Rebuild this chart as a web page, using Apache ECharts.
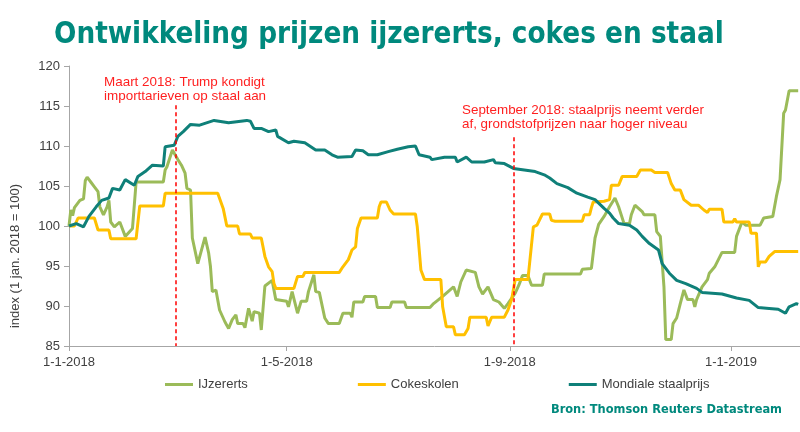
<!DOCTYPE html>
<html><head><meta charset="utf-8">
<script src="https://cdn.jsdelivr.net/npm/echarts@6/dist/echarts.min.js"></script>
<style>html,body{margin:0;padding:0;background:#fff}#c{width:800px;height:432px}</style>
</head><body><div id="c"></div>
<script>
// x values: days since 1 Jan 2018
const tickDays = [0, 120, 243, 365];
const tickLabels = ['1-1-2018', '1-5-2018', '1-9-2018', '1-1-2019'];
const eventDays = [59, 245];
const eventTops = [115.1, 111.1];

const ironDays = [0,1,2,3,6,8,9,10,12,14,16,17,19,21,22,23,25,28,29,31,32,35,37,52,53,54,57,58,60,62,64,65,67,68,71,72,75,77,78,79,81,83,86,88,90,92,93,96,97,99,101,102,105,106,108,112,114,120,121,123,126,128,131,132,135,136,138,141,143,149,151,155,156,157,162,163,169,170,177,178,185,186,199,201,206,212,214,216,219,224,226,228,231,234,237,240,242,246,248,250,253,255,261,262,282,283,288,290,292,295,298,301,303,306,309,310,312,314,316,317,323,324,326,328,329,332,333,335,337,339,341,344,345,346,349,352,353,356,360,367,368,371,373,381,383,388,390,392,394,395,397,402];
const ironVals = [100,102,101.3,102.3,103.2,103.4,105.7,106.1,105.5,104.9,104.3,102.4,101.4,102.4,103.2,100.5,99.9,100.5,99.9,98.7,98.7,99.7,105.5,105.5,107,107.4,109.5,109.3,108.3,107.6,106.6,104.7,104.5,98.5,95.3,95.3,98.6,96.6,94.9,91.8,92,89.5,88,87.2,88.3,88.9,87.8,87.8,87.3,89.7,88.1,89.3,89.1,87.0,92.5,93.2,90.8,90.6,89.9,91.8,89.1,90.6,90.6,91.8,93.9,91.8,91.7,88.5,87.8,87.8,89.1,89.1,88.6,90.5,90.5,91.2,91.2,89.8,89.8,90.5,90.5,89.8,89.8,90.3,91.2,92.4,91.2,93.0,94.5,94.2,92.4,91.5,92.4,90.8,90.5,89.7,90.3,91.6,92.6,93.8,93.8,92.6,92.6,94.0,94.0,94.6,94.7,98.5,100.2,101.2,102.4,103.5,102.4,100.3,100.3,101.4,102.6,102.2,101.8,101.4,101.4,99.3,98.7,92.4,85.8,85.8,87.8,88.5,90.3,92.0,90.8,90.8,89.9,90.8,92.4,93.3,94.1,94.9,96.7,96.7,98.7,100.5,100.1,100.1,101.0,101.2,103.7,105.8,114.1,114.5,116.9,116.9];

const cokesDays = [0,3,5,14,16,22,23,37,39,52,53,82,85,87,93,94,100,101,106,108,110,112,113,114,124,126,129,130,149,151,154,156,158,159,161,170,171,172,175,177,179,191,192,194,196,205,206,208,212,213,218,220,221,230,231,233,240,242,244,246,253,256,258,261,265,266,268,283,284,287,288,289,295,298,299,303,305,313,315,321,323,330,332,334,337,339,343,347,350,352,353,360,361,366,367,368,375,376,379,380,381,384,386,389,402];
const cokesVals = [100,100,101,101,99.5,99.5,98.4,98.4,102.5,102.5,104.1,104.1,102.2,100,100,99,99,98.5,98.5,96.2,94.9,94.3,92.8,92.2,92.2,93.7,93.7,94.2,94.2,94.9,95.8,97,97.4,99.7,101,101,102.4,103,103,102,101.5,101.5,99.9,94.5,93.3,93.3,89.9,87.4,87.4,86.4,86.4,87.2,88.6,88.6,87.5,88.6,88.6,89.5,90.8,93.3,93.3,99.9,100.1,101.5,101.5,100.7,100.6,100.6,101.4,101.4,102.3,103,103.1,103.3,105.1,105.1,106.2,106.2,107,107,106.7,106.7,105.3,104.5,104.5,103.3,102.6,102.6,102,101.7,102.1,102.1,100.5,100.5,100.9,100.5,100.5,99.1,99.1,94.9,95.5,95.5,96.2,96.8,96.8];

const steelDays = [0,4,8,11,15,18,22,24,28,31,36,38,42,46,52,53,58,60,63,67,72,80,88,98,100,102,106,110,114,115,121,124,130,136,141,145,148,156,158,162,165,170,176,181,187,191,193,199,200,207,213,214,219,222,229,234,235,240,245,251,257,262,265,269,275,280,286,290,295,298,300,303,309,313,316,320,325,327,331,335,340,346,349,360,368,375,380,386,391,395,397,401,402];
const steelVals = [100,100.3,99.9,101.2,102.4,103.2,103.5,104.7,104.5,105.8,105.1,106.2,106.8,107.6,107.5,109.9,110.1,111.2,111.8,112.7,112.6,113.2,112.9,113.2,113.1,112.2,112.2,111.8,112.0,111.2,110.4,110.6,110.4,109.5,109.5,108.9,108.6,108.7,109.5,109.4,108.9,108.9,109.3,109.6,109.9,110.0,108.9,108.6,108.3,108.6,108.6,108.0,108.6,108.0,108.0,108.3,107.9,107.8,107.2,107.0,106.8,106.4,106.0,105.3,104.8,104.1,103.6,103.3,102.2,101.6,101.0,100.3,100.1,99.5,98.7,97.8,97.0,95.3,94.1,93.2,92.8,92.2,91.7,91.5,91.0,90.7,89.8,89.7,89.6,89.1,89.9,90.3,90.2];

const seriesNames = ['IJzererts', 'Cokeskolen', 'Mondiale staalprijs'];
const seriesColors = ['#9bbb59', '#ffc000', '#0f8079'];

const pairs = (xs, ys) => xs.map((d, i) => [d, ys[i]]);
const FONT = '"Liberation Sans", Arial, sans-serif';
const TITLEFONT = '"Liberation Sans Narrow", "DejaVu Sans Condensed", Lato, sans-serif';
const labelColor = '#404040';

const chart = echarts.init(document.getElementById('c'), null, {renderer: 'canvas'});
chart.setOption({
  animation: false,
  backgroundColor: '#fff',
  grid: {left: 69, right: 0, top: 66, bottom: 86, containLabel: false},
  xAxis: {
    type: 'value', min: 0, max: 403,
    splitLine: {show: false},
    axisLine: {lineStyle: {color: '#a6a6a6', width: 1}},
    axisTick: {show: true, length: 5, lineStyle: {color: '#a6a6a6'}, customValues: tickDays},
    axisLabel: {customValues: tickDays, color: labelColor, fontFamily: FONT, fontSize: 13, margin: 10,
      formatter: v => tickLabels[tickDays.indexOf(v)] || ''}
  },
  yAxis: {
    type: 'value', min: 85, max: 120, interval: 5,
    splitLine: {show: false},
    axisLine: {show: true, lineStyle: {color: '#a6a6a6', width: 1}},
    axisTick: {show: true, length: 5, lineStyle: {color: '#a6a6a6'}},
    axisLabel: {color: labelColor, fontFamily: FONT, fontSize: 13, margin: 9}
  },
  legend: {
    data: seriesNames, left: 160, top: 373, icon: 'rect', itemWidth: 28, itemHeight: 3, itemGap: 110,
    textStyle: {fontFamily: FONT, fontSize: 13, color: labelColor}
  },
  series: [
    {name: seriesNames[0], type: 'line', data: pairs(ironDays, ironVals), showSymbol: false, symbol: 'none',
      lineStyle: {width: 3, color: seriesColors[0]}, itemStyle: {color: seriesColors[0]}, z: 2},
    {name: seriesNames[1], type: 'line', data: pairs(cokesDays, cokesVals), showSymbol: false, symbol: 'none',
      lineStyle: {width: 3, color: seriesColors[1]}, itemStyle: {color: seriesColors[1]}, z: 3},
    {name: seriesNames[2], type: 'line', data: pairs(steelDays, steelVals), showSymbol: false, symbol: 'none',
      lineStyle: {width: 3, color: seriesColors[2]}, itemStyle: {color: seriesColors[2]}, z: 4,
      markLine: {silent: true, symbol: 'none', animation: false,
        lineStyle: {color: '#ff0000', type: [4, 3], width: 1.5}, label: {show: false},
        data: eventDays.map((d, i) => [{coord: [d, eventTops[i]]}, {coord: [d, 85]}])}}
  ],
  graphic: [
    {type: 'text', x: 54, y: 35, style: {text: 'Ontwikkeling prijzen ijzererts, cokes en staal', fill: '#00897d',
      fontFamily: TITLEFONT, fontWeight: 'bold', fontSize: 29.3, verticalAlign: 'middle', align: 'left'}},
    {type: 'text', x: 104, y: 75, style: {text: 'Maart 2018: Trump kondigt\nimporttarieven op staal aan', fill: '#ff1f1f',
      fontFamily: FONT, fontSize: 13.45, lineHeight: 14, verticalAlign: 'top', align: 'left'}},
    {type: 'text', x: 462, y: 103, style: {text: 'September 2018: staalprijs neemt verder\naf, grondstofprijzen naar hoger niveau', fill: '#ff1f1f',
      fontFamily: FONT, fontSize: 13.4, lineHeight: 14, verticalAlign: 'top', align: 'left'}},
    {type: 'text', x: 15, y: 256, rotation: Math.PI / 2, style: {text: 'index (1 jan. 2018 = 100)', fill: labelColor,
      fontFamily: FONT, fontSize: 13, align: 'center', verticalAlign: 'middle'}},
    {type: 'text', x: 782, y: 410, style: {text: 'Bron: Thomson Reuters Datastream', fill: '#00897d',
      fontFamily: TITLEFONT, fontWeight: 'bold', fontSize: 12.7, align: 'right', verticalAlign: 'middle'}}
  ]
});
</script></body></html>
